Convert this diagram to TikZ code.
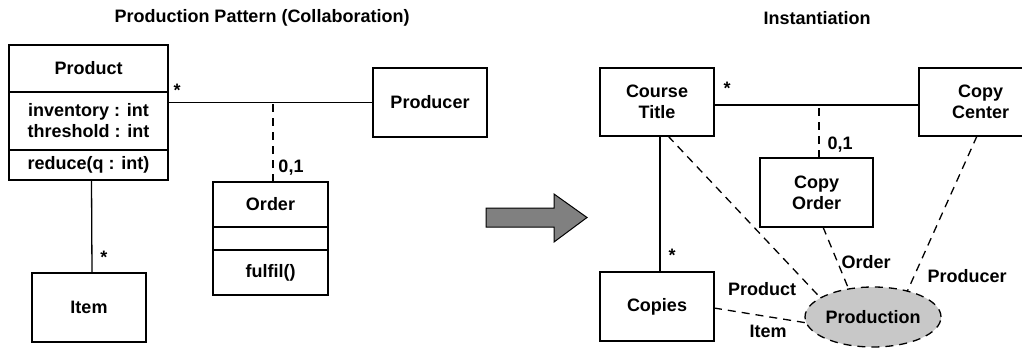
\documentclass[tikz,border=0pt]{standalone}
\usepackage{fontspec}
\setmainfont{Liberation Sans}
\usetikzlibrary{shapes.geometric,calc}
\definecolor{arrowgray}{HTML}{808080}
\definecolor{rolegray}{HTML}{C8C8C8}
\begin{document}
\begin{tikzpicture}[x=1pt,y=-1pt,
  every node/.style={font=\fontsize{18}{21}\selectfont\bfseries, inner sep=0pt, outer sep=0pt},
  cls/.style={draw, line width=1.3pt, rectangle, align=center, anchor=north west},
  assoc/.style={line width=1.3pt},
  dep/.style={line width=1.3pt, dash pattern=on 8pt off 6pt},
  role/.style={draw, ellipse, line width=1.3pt, dash pattern=on 8pt off 6pt,
    fill=rolegray, minimum width=136pt, minimum height=60pt},
  mult/.style={anchor=center},
  title/.style={anchor=center}]
\useasboundingbox (0,0) rectangle (1022,350);
\clip (0,0) rectangle (1022,350);

% headings
\node[title] (t1) at (262,18) {Production Pattern (Collaboration)};
\node[title] (t2) at (817,18) {Instantiation};

% ---- collaboration pattern ----
\node[cls, minimum width=159pt, minimum height=47pt] (pr1) at (9,45) {Product};
\node[cls, minimum width=159pt, minimum height=58pt] (pr2) at (9,92) {inventory : int\\threshold : int};
\node[cls, minimum width=159pt, minimum height=30pt] (pr3) at (9,150) {reduce(q : int)};
\node[cls, minimum width=114pt, minimum height=69pt] (pdr) at (373,68) {Producer};
\node[cls, minimum width=115pt, minimum height=45pt] (or1) at (213,182) {Order};
\node[cls, minimum width=115pt, minimum height=23pt] (or2) at (213,227) {};
\node[cls, minimum width=115pt, minimum height=45pt] (or3) at (213,250) {fulfil()};
\node[cls, minimum width=114pt, minimum height=69pt] (itm) at (32,273) {Item};

\coordinate (pra) at (pdr.west -| pr2.east);
\draw[assoc] (pra) -- (pdr.west);
\coordinate (ordtop) at ($(or1.north)+(2.5,0)$);
\draw[dep] (ordtop) -- (ordtop |- pdr.west);
\draw[assoc] ($(pr3.south)+(3,0)$) -- ($(itm.north)+(3,0)$);

\node[mult] (m1) at (177,90) {*};
\node[mult] (m2) at (291,168) {0,1};
\node[mult] (m3) at (104,257) {*};

% ---- transformation arrow ----
\draw[line width=1pt, fill=arrowgray] (486,208) -- (554,208) -- (554,194) -- (587,217.5)
  -- (554,242) -- (554,227) -- (486,227) -- cycle;

% ---- instantiation ----
\node[cls, minimum width=114pt, minimum height=68pt] (ct) at (600,68) {Course\\Title};
\node[cls, minimum width=123pt, minimum height=68pt] (cc) at (919,68) {Copy\\Center};
\node[cls, minimum width=113pt, minimum height=69pt] (co) at (760,158) {Copy\\Order};
\node[cls, minimum width=114pt, minimum height=69pt] (cp) at (600,272) {Copies};
\node[role] (prod) at (873,317) {Production};

\draw[assoc] (ct.east) ++(0,3) coordinate (cta) -- (cta -| cc.west);
\coordinate (cotop) at ($(co.north)+(2.5,0)$);
\draw[dep] (cotop) -- (cotop |- cta);
\draw[assoc] ($(ct.south)+(3,0)$) -- ($(cp.north)+(3,0)$);

\node[mult] (m4) at (727,88) {*};
\node[mult] (m5) at (840,145) {0,1};
\node[mult] (m6) at (672,255) {*};

\coordinate (ctb) at ($(ct.south)+(11,0)$);
\coordinate (cob) at ($(co.south)+(6.5,0)$);
\coordinate (ccb) at ($(cc.south west)+(58,0)$);
\draw[dep] (ctb) -- (prod.160);
\draw[dep] (cob) -- (prod.131);
\draw[dep] (ccb) -- (prod.37);
\draw[dep] ($(cp.east)+(0,1.5)$) -- (prod.185);

\node[anchor=center] (lp) at (762,289) {Product};
\node[anchor=center] (lo) at (866,262) {Order};
\node[anchor=center] (lr) at (967,276) {Producer};
\node[anchor=center] (li) at (768,331) {Item};
\end{tikzpicture}
\end{document}
